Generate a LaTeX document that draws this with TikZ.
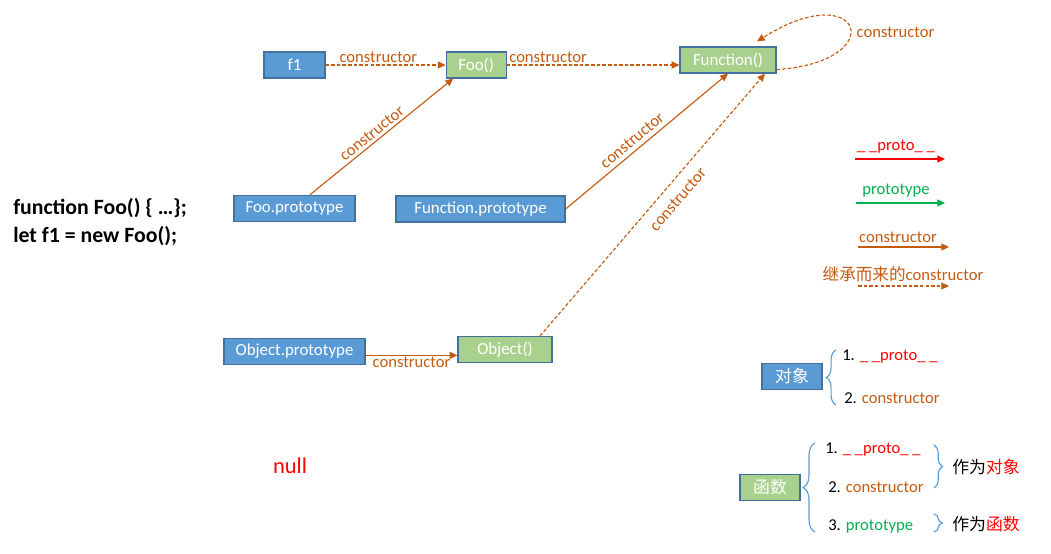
\documentclass[tikz,border=0pt]{standalone}
\usepackage{fontspec}
\setmainfont{Carlito}
\newfontfamily\cjk{Noto Sans CJK SC}
\usetikzlibrary{arrows.meta, calc, positioning, decorations.pathreplacing}

\definecolor{orng}{HTML}{C55A11}
\definecolor{boxblue}{HTML}{5B9BD5}
\definecolor{boxgreen}{HTML}{A9D18E}
\definecolor{boxline}{HTML}{41719C}
\definecolor{grn}{HTML}{00B050}

\begin{document}
\begin{tikzpicture}[
            x=0.025cm, y=-0.025cm,
            node distance=2.9cm,
            box/.style={rectangle, draw=boxline, line width=0.8pt,
            minimum height=0.65cm, inner sep=0pt, text=white,
            font=\fontsize{12}{14}\selectfont},
            bluebox/.style={box, fill=boxblue},
            greenbox/.style={box, fill=boxgreen},
            lbl/.style={font=\fontsize{11.8}{14}\selectfont, text=orng, inner sep=1pt},
            item/.style={font=\fontsize{11.8}{14}\selectfont, inner sep=0pt, anchor=west},
            code/.style={font=\bfseries\fontsize{15.5}{18}\selectfont, inner sep=0pt, anchor=west},
            conn/.style={color=orng, line width=0.8pt, -{Triangle[length=5.5pt,width=5pt]}},
            inh/.style={conn, dash pattern=on 2.5pt off 1.5pt},
            brc/.style={draw=boxblue, line width=0.8pt, decorate,
            decoration={brace, amplitude=#1}}
        ]
\useasboundingbox (0,0) rectangle (1051,553);
\fill[white] (0,0) rectangle (1051,553);

% ----- Knoten -----
            \node[bluebox, minimum width=1.525cm] (f1) at (294.5,65) {f1};
            \node[greenbox, minimum width=1.5cm, right=3cm of f1] (foo) {Foo()};
            \node[greenbox, minimum width=2.4cm] (fn) at (728,60) {Function()};
            \node[bluebox, minimum width=3.025cm, below=of f1] (foop) {Foo.prototype};
            \node[bluebox, minimum width=4.225cm] (fnp) at (480.5,209) {Function.prototype};
            \node[bluebox, minimum width=3.525cm, below=of foop] (objp) {Object.prototype};
            \node[greenbox, minimum width=2.35cm] (obj) at (505,349.5) {Object()};

% Quelltext
            \node[code] (src1) at (13,208) {function Foo() \{ …\};};
            \node[code] (src2) at (13,236) {let f1 = new Foo();};
            \node[font=\fontsize{16}{18}\selectfont, text=red] (nul) at (290,466) {null};

% ----- Kanten -----
            \draw[inh] (f1) -- node[lbl, above, pos=0.44] {constructor} (foo);
            \draw[inh] (foo.east) -- node[lbl, above, pos=0.24] {constructor} (foo.east -| fn.west);
            \draw[conn] ([xshift=0.39cm]foop.north) -- node[lbl, above=1pt, sloped, pos=0.47] {constructor} ([xshift=-0.575cm]foo.south);
            \draw[conn] (fnp.east) -- node[lbl, above=2pt, sloped, pos=0.45] {constructor} (fn.south);
            \draw[inh] ([xshift=0.875cm]obj.north) -- node[lbl, below=6pt, sloped, pos=0.56] {constructor} ([xshift=0.925cm]fn.south);
            \coordinate (opa) at ([yshift=-0.1cm]objp.east);
            \draw[conn] (opa) -- node[lbl, below] {constructor} (opa -| obj.west);

% Selbstschleife
            \draw[inh] ([yshift=0.1cm]fn.south east) .. controls (892,62) and (862,-25) .. node[lbl, right=3pt, pos=0.45] {constructor} ([xshift=0.725cm,yshift=0.125cm]fn.north);

% ----- Legende -----
            \node[lbl, text=red] (lgpro) at (896,147) {\_ \_proto\_ \_};
            \coordinate (lgproA) at (855,159);
            \coordinate (lgproB) at (945,159);
            \draw[conn, red] (lgproA) -- (lgproB);

            \node[lbl, text=grn] (lgtyp) at (896,191) {prototype};
            \coordinate (lgtypA) at (856,203);
            \coordinate (lgtypB) at (945,203);
            \draw[conn, grn] (lgtypA) -- (lgtypB);

            \node[lbl] (lgcon) at (898,237) {constructor};
            \coordinate (lgconA) at (858,247);
            \coordinate (lgconB) at (949,247);
            \draw[conn] (lgconA) -- (lgconB);

            \node[lbl] (lginh) at (903,274) {{\cjk 继承而来的}constructor};
            \coordinate (lginhA) at (858,286);
            \coordinate (lginhB) at (949,286);
            \draw[inh] (lginhA) -- (lginhB);

% ----- Objekt -----
            \node[bluebox, minimum width=1.5cm, font=\cjk\fontsize{12}{14}\selectfont] (dx) at (792,376.5) {对象};
            \draw[brc=7pt] (836,405) -- (836,350);
            \node[item] (dx1) at (842,356) {1. \textcolor{red}{\_ \_proto\_ \_}};
            \node[item] (dx2) at (844,398) {2. \textcolor{orng}{constructor}};

% ----- Funktion -----
            \node[greenbox, minimum width=1.5cm, font=\cjk\fontsize{12}{14}\selectfont] (hs) at (770,487.5) {函数};
            \draw[brc=8.5pt] (815,532) -- (815,443);
            \node[item] (hs1) at (825,449) {1. \textcolor{red}{\_ \_proto\_ \_}};
            \node[item] (hs2) at (828,487) {2. \textcolor{orng}{constructor}};
            \node[item] (hs3) at (828,526) {3. \textcolor{grn}{prototype}};
            \draw[brc=6pt] (934,445) -- (934,488);
            \draw[brc=6pt] (934,514) -- (934,532);
            \node[item, font=\cjk\fontsize{12}{14}\selectfont] (alsobj) at (952,467) {作为\textcolor{red}{对象}};
            \node[item, font=\cjk\fontsize{12}{14}\selectfont] (alsfn) at (952,524) {作为\textcolor{red}{函数}};

        \end{tikzpicture}
\end{document}
